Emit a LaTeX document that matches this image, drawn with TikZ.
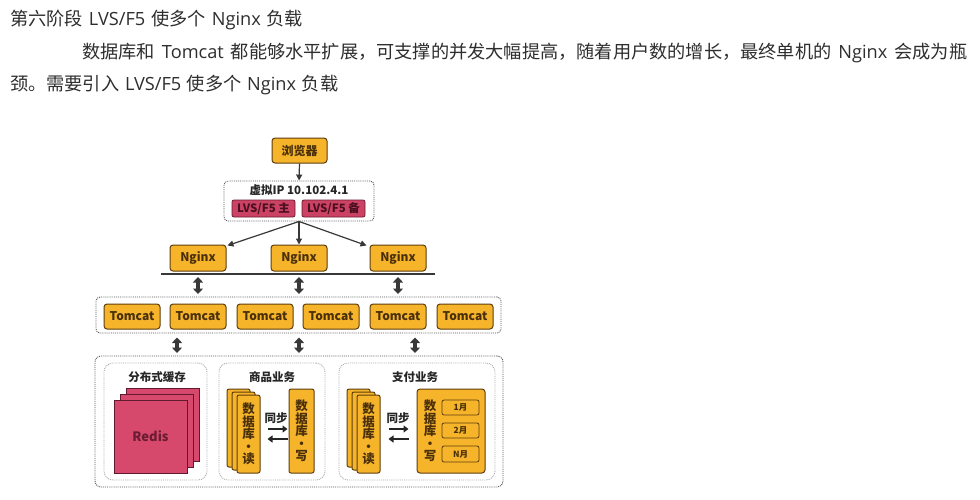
\documentclass[tikz,border=0pt]{standalone}
\usepackage{fontspec}
\setmainfont{Noto Sans CJK SC}
\newfontfamily\latf{Open Sans}
\usetikzlibrary{arrows.meta}
\definecolor{orng}{HTML}{F6B42B}
\definecolor{obrd}{HTML}{5E3F0C}
\definecolor{otxt}{HTML}{4A300A}
\definecolor{crim}{HTML}{CC4264}
\definecolor{cbrd}{HTML}{6B1C32}
\definecolor{ctxt}{HTML}{4A1020}
\definecolor{redis}{HTML}{D6496D}
\definecolor{darkln}{HTML}{383838}
\definecolor{headtxt}{HTML}{2E2E2E}
\tikzset{
  ob/.style={draw=obrd, fill=orng, rounded corners=3pt, line width=1pt, text=otxt, inner sep=0pt,
    font=\bfseries\fontsize{12}{13}\selectfont},
  cb/.style={draw=cbrd, fill=crim, rounded corners=2pt, line width=0.8pt, text=ctxt, inner sep=0pt,
    font=\bfseries\fontsize{11.5}{12}\selectfont},
  dotbox/.style={draw=darkln!85, densely dotted, line width=0.9pt, rounded corners=4pt, inner sep=0pt},
  inbox/.style={draw=gray!65, densely dotted, line width=0.9pt, rounded corners=9pt, fill=white, inner sep=0pt},
  rbox/.style={draw=cbrd!90!black, fill=redis, line width=0.9pt, inner sep=0pt, minimum width=73pt, minimum height=73pt},
  ttl/.style={inner sep=0pt, text=black!85, font=\bfseries\fontsize{11.5}{12}\selectfont},
  vtxt/.style={inner sep=0pt, align=center, text=otxt, font=\bfseries\fontsize{12.5}{12.4}\selectfont},
  mb/.style={ob, rounded corners=2pt, line width=0.8pt, minimum width=37pt, font=\bfseries\fontsize{8.5}{10}\selectfont},
  arr/.style={draw=darkln, line width=1.2pt, -{Triangle[length=6pt,width=6pt]}},
  darr/.style={draw=darkln, line width=3.6pt, {Triangle[length=5.5pt,width=10pt]}-{Triangle[length=5.5pt,width=10pt]}},
  syn/.style={draw=black!85, line width=2pt, -{Triangle[length=5pt,width=7pt]}},
  head/.style={anchor=west, inner sep=0pt, text=headtxt, font=\fontsize{18.2}{20}\selectfont}
}
\begin{document}
\begin{tikzpicture}[x=1pt,y=-1pt]
\useasboundingbox[fill=white] (0,0) rectangle (980,499);

% heading text
\node[head] (t1) at (10,20) {\makebox[293pt][s]{第六阶段 {\latf LVS/F5} 使多个 {\latf Nginx} 负载}};
\node[head] (t2) at (82,53) {\makebox[885pt][s]{数据库和 {\latf Tomcat} 都能够水平扩展，可支撑的并发大幅提高，随着用户数的增长，最终单机的 {\latf Nginx} 会成为瓶}};
\node[head] (t3) at (10,85) {\makebox[328pt][s]{颈。需要引入 {\latf LVS/F5} 使多个 {\latf Nginx} 负载}};

% browser
\node[ob, minimum width=55pt, minimum height=25pt] (br) at (299.5,150.5) {浏览器};

% virtual ip box
\node[dotbox, minimum width=150pt, minimum height=40pt] (vip) at (299,201) {};
\node[ttl] (viptxt) at (299,190) {虚拟IP 10.102.4.1};
\node[cb, minimum width=63pt, minimum height=17pt] (lvsm) at (263.5,208.5) {LVS/F5 主};
\node[cb, minimum width=63pt, minimum height=17pt] (lvsb) at (333.5,208.5) {LVS/F5 备};

% nginx
\node[ob, minimum width=56pt, minimum height=26pt] (ngl) at (198,258) {Nginx};
\node[ob, minimum width=56pt, minimum height=26pt] (ngm) at (299,258) {Nginx};
\node[ob, minimum width=56pt, minimum height=26pt] (ngr) at (398,258) {Nginx};

\draw[arr] (br.south) -- (vip.north);
\draw[arr] (vip.south) -- ([xshift=1pt,yshift=-1pt]ngl.north east);
\draw[arr] (vip.south) -- (ngm.north);
\draw[arr] (vip.south) -- ([xshift=-3pt,yshift=-1pt]ngr.north west);

% line under nginx
\coordinate (la) at (161,274);
\coordinate (lb) at (435,274);
\draw[draw=darkln, line width=1.3pt] (la) -- (lb);

% tomcat box
\node[dotbox, minimum width=405pt, minimum height=36pt] (tcb) at (298.5,315) {};
\foreach \x/\n in {132/1,198/2,265/3,331/4,398/5,465/6}{
  \node[ob, minimum width=56pt, minimum height=25pt] (tc\n) at (\x,316.5) {Tomcat};
}

% double arrows nginx <-> tomcat
\foreach \x/\n in {198/a,299/b,398/c}{
  \coordinate (u\n) at (\x,277);
  \coordinate (d\n) at (\x,294);
  \draw[darr] (u\n) -- (d\n);
}
% double arrows tomcat <-> storage
\foreach \x/\n in {177/a,299/b,415/c}{
  \coordinate (p\n) at (\x,337.5);
  \coordinate (q\n) at (\x,353);
  \draw[darr] (p\n) -- (q\n);
}

% storage outer box
\node[dotbox, rounded corners=6pt, minimum width=408pt, minimum height=131pt] (st) at (299,421.5) {};
\node[inbox, minimum width=103pt, minimum height=117pt] (cache) at (155.5,421.5) {};
\node[inbox, minimum width=106pt, minimum height=117pt] (goods) at (272,421.5) {};
\node[inbox, minimum width=156pt, minimum height=117pt] (pay) at (417,421.5) {};
\node[ttl] (cachet) at (157,377) {分布式缓存};
\node[ttl] (goodst) at (272,377) {商品业务};
\node[ttl] (payt) at (415,377) {支付业务};

% redis stack
\node[rbox] (r3) at (162.5,424.5) {};
\node[rbox] (r2) at (156.5,430.5) {};
\node[rbox, text=cbrd, font=\bfseries\fontsize{13}{14}\selectfont] (r1) at (150.5,436.5) {Redis};

% goods read stack
\node[ob, rounded corners=2pt, minimum width=23pt, minimum height=78pt] (gr3) at (238.5,428) {};
\node[ob, rounded corners=2pt, minimum width=23pt, minimum height=78pt] (gr2) at (243.5,431) {};
\node[ob, rounded corners=2pt, minimum width=23pt, minimum height=78pt] (gr) at (248.5,434) {};
\node[vtxt] (grt) at (248.5,434) {数\\据\\库\\・\\读};
% goods write
\node[ob, rounded corners=2pt, minimum width=25pt, minimum height=84pt] (gw) at (301.5,431) {};
\node[vtxt] (gwt) at (301.5,431) {数\\据\\库\\・\\写};
\node[ttl, text=black!85] (gs) at (276,418) {同步};
\draw[syn] ([yshift=5pt]gr.east) ++(7pt,0) -- ++(20pt,0);
\draw[syn] ([yshift=-5pt]gr.east) ++(27pt,0) -- ++(-20pt,0);

% pay read stack
\node[ob, rounded corners=2pt, minimum width=23pt, minimum height=78pt] (pr3) at (358.5,428) {};
\node[ob, rounded corners=2pt, minimum width=23pt, minimum height=78pt] (pr2) at (363.5,431) {};
\node[ob, rounded corners=2pt, minimum width=23pt, minimum height=78pt] (pr) at (368.5,434) {};
\node[vtxt] (prt) at (368.5,434) {数\\据\\库\\・\\读};
% pay write
\node[ob, rounded corners=3pt, minimum width=68pt, minimum height=84pt] (pw) at (451,431) {};
\node[vtxt] (pwt) at (430,431) {数\\据\\库\\・\\写};
\node[mb, minimum height=15pt] (m1) at (460.5,407.5) {1月};
\node[mb, minimum height=15pt] (m2) at (460.5,430.5) {2月};
\node[mb, minimum height=16pt] (mn) at (460.5,454) {N月};
\node[ttl, text=black!85] (ps) at (398,418) {同步};
\draw[syn] ([yshift=5pt]pr.east) ++(8pt,0) -- ++(20pt,0);
\draw[syn] ([yshift=-5pt]pr.east) ++(28pt,0) -- ++(-20pt,0);
\end{tikzpicture}
\end{document}
